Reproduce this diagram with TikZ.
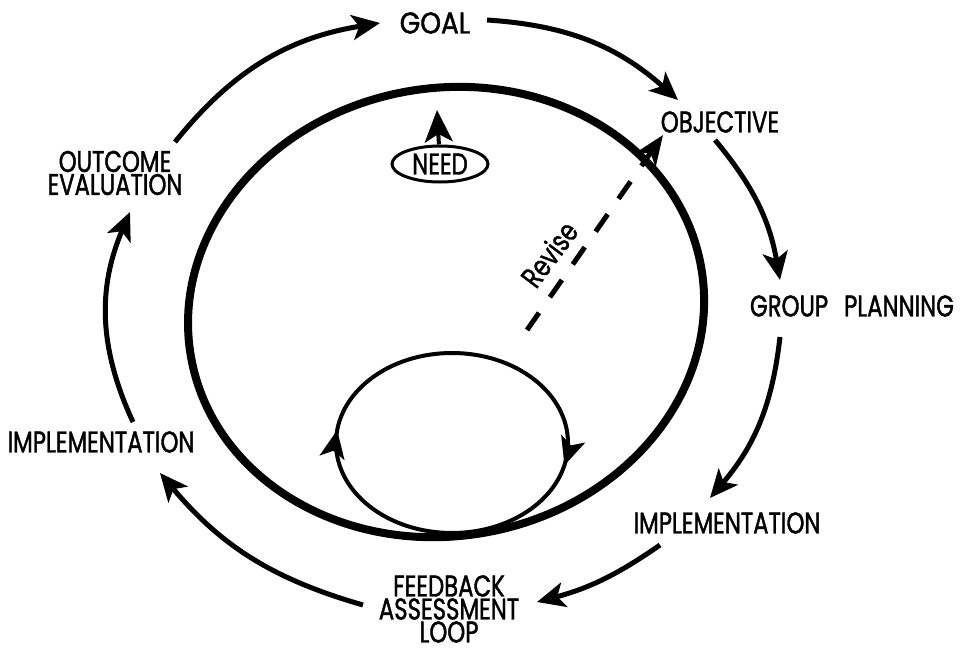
\documentclass[tikz,border=0pt]{standalone}
\usepackage{fontspec}
\setmainfont{Poppins}[FakeStretch=0.76, FakeBold=1.3]
\newfontfamily\widefont{Poppins}[FakeStretch=0.88, FakeBold=1.3]
\usetikzlibrary{arrows.meta,decorations.markings,shapes.geometric}
\begin{document}
\begin{tikzpicture}[x=0.5pt,y=-0.5pt,
  lbl/.style={font=\fontsize{15}{11.5}\selectfont, inner sep=0pt, align=center},
  widelbl/.style={font=\widefont\fontsize{15}{11.5}\selectfont, inner sep=0pt, align=center},
  flow/.style={line width=2.5pt, -{Stealth[length=14pt,width=12.5pt,inset=3.5pt]}},
  ring/.style={line width=4pt},
  loopline/.style={line width=2pt},
  loophead/.tip={Stealth[length=14pt,width=12.5pt,inset=3.5pt]},
  revline/.style={line width=2.5pt, dash pattern=on 10.5pt off 9.5pt,
    -{Stealth[length=15pt,width=12pt,inset=4pt]}}
]
\useasboundingbox (0,0) rectangle (965,648);

% cycle labels
\node[widelbl] (goal) at (435,23) {GOAL};
\node[lbl] (obj) at (720,122) {OBJECTIVE};
\node[lbl] (plan) at (852,306) {GROUP\hspace{8pt}PLANNING};
\node[lbl] (implR) at (727,523) {IMPLEMENTATION};
\node[lbl] (fb) at (449,609) {FEEDBACK\\ASSESSMENT\\LOOP};
\node[lbl] (implL) at (101,442) {IMPLEMENTATION};
\node[lbl] (outc) at (115,173) {OUTCOME\\EVALUATION};

% arrow end points around the cycle
\coordinate (a1s) at (175,142); \coordinate (a1e) at (380,23);
\coordinate (a2s) at (487,20);  \coordinate (a2e) at (678,100);
\coordinate (a3s) at (715,140); \coordinate (a3e) at (780,280);
\coordinate (a4s) at (780,337); \coordinate (a4e) at (710,498);
\coordinate (a5s) at (660,545); \coordinate (a5e) at (537,602);
\coordinate (a6s) at (363,605); \coordinate (a6e) at (160,473);
\coordinate (a7s) at (133,422); \coordinate (a7e) at (130,212);

\draw[flow] (a1s) to[bend left=21] (a1e);
\draw[flow] (a2s) to[bend left=19] (a2e);
\draw[flow] (a3s) to[bend left=15] (a3e);
\draw[flow] (a4s) to[bend left=17] (a4e);
\draw[flow] (a5s) to[bend left=10] (a5e);
\draw[flow] (a6s) to[bend left=17] (a6e);
\draw[flow] (a7s) to[bend left=24] (a7e);

% the thick outer ring
\coordinate (rc) at (446,312);
\draw[ring, rotate around={10:(rc)}] (rc) ellipse [x radius=259, y radius=224];

% the inner feedback loop
\coordinate (lc) at (452,443);
\draw[loopline, postaction={decorate}, decoration={markings,
    mark=at position 0.035 with {\arrow{loophead}},
    mark=at position 0.52 with {\arrow{loophead}}}]
  (lc) ellipse [x radius=116, y radius=90];

% need
\node[lbl, draw, ellipse, line width=1.5pt, minimum width=48pt, minimum height=18pt] (need) at (440,164) {NEED};
\coordinate (needtip) at (437,110);
\draw[line width=2pt, -{Stealth[length=16pt,width=14pt,inset=4pt]}] (need) -- (needtip);

% revise path
\coordinate (revlow) at (527,330);
\coordinate (revtip) at (663,135);
\draw[revline] (revlow) -- (revtip);
\node[lbl, rotate=53] (rev) at (549,254) {Revise};

\end{tikzpicture}
\end{document}
